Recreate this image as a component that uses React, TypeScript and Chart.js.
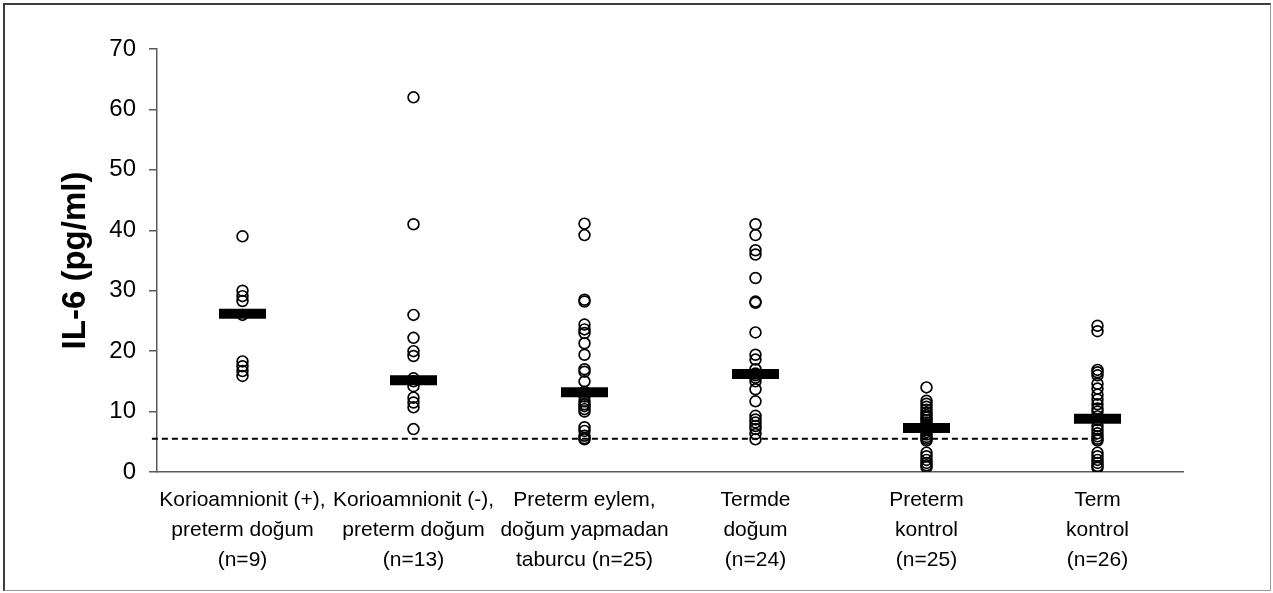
import React, { useEffect, useRef } from "react";
import { Chart, registerables } from "chart.js";

Chart.register(...registerables);

const CATEGORY_LABELS: string[][] = [
  ["Korioamnionit (+),", "preterm doğum", "(n=9)"],
  ["Korioamnionit (-),", "preterm doğum", "(n=13)"],
  ["Preterm eylem,", "doğum yapmadan", "taburcu (n=25)"],
  ["Termde", "doğum", "(n=24)"],
  ["Preterm", "kontrol", "(n=25)"],
  ["Term", "kontrol", "(n=26)"],
];

const KORIO_POS: number[] = [39.0, 30.0, 29.1, 28.3, 26.0, 18.3, 17.5, 16.7, 15.9];
const KORIO_NEG: number[] = [62.0, 41.0, 26.0, 22.2, 20.0, 19.2, 15.5, 15.0, 14.2, 12.3, 11.5, 10.7, 7.1];
const PRETERM_EYLEM: number[] = [41.1, 39.2, 28.5, 28.2, 24.4, 23.6, 23.0, 21.3, 19.4, 17.0, 16.6, 15.0, 13.3, 13.0, 12.5, 11.7, 11.2, 10.9, 10.4, 10.0, 7.4, 6.8, 6.0, 5.6, 5.4];
const TERMDE_DOGUM: number[] = [41.0, 39.2, 36.7, 36.0, 32.1, 28.2, 28.0, 23.1, 19.4, 18.6, 17.0, 16.3, 16.0, 15.6, 15.0, 13.7, 11.7, 9.3, 8.7, 8.2, 7.6, 7.1, 6.3, 5.4];
const PRETERM_KONTROL: number[] = [14.0, 11.8, 11.3, 10.8, 10.3, 9.8, 9.4, 9.0, 8.6, 8.2, 7.8, 7.5, 7.3, 7.0, 6.6, 6.2, 5.8, 5.5, 5.2, 3.2, 2.6, 2.0, 1.5, 1.1, 0.8];
const TERM_KONTROL: number[] = [24.2, 23.3, 16.9, 16.5, 16.0, 14.6, 13.8, 12.8, 12.0, 11.2, 10.5, 10.0, 9.2, 8.6, 7.6, 7.0, 6.4, 5.9, 5.5, 5.2, 3.2, 2.6, 2.0, 1.5, 1.0, 0.7];

const MEDIANS: number[] = [26.2, 15.2, 13.2, 16.2, 7.3, 8.8];
const CUTOFF = 5.5;

const Y_MIN = 0;
const Y_MAX = 70;
const Y_STEP = 5;
const Y_LABEL_STEP = 10;

const FONT = "'Liberation Sans', Arial, Helvetica, sans-serif";

export default function App() {
  const canvasRef = useRef<HTMLCanvasElement | null>(null);

  useEffect(() => {
    const canvas = canvasRef.current;
    if (!canvas) return;
    const groups = [KORIO_POS, KORIO_NEG, PRETERM_EYLEM, TERMDE_DOGUM, PRETERM_KONTROL, TERM_KONTROL];
    const points = groups.flatMap((vals, gi) => vals.map((v) => ({ x: gi, y: v })));
    const medians = MEDIANS.map((m, gi) => ({ x: gi, y: m }));

    const chart = new Chart(canvas, {
      type: "scatter",
      data: {
        datasets: [
          {
            label: "Medyan",
            data: medians,
            pointStyle: "line",
            pointRadius: 23.5,
            pointHoverRadius: 23.5,
            borderWidth: 10,
            pointBorderWidth: 10,
            borderColor: "#000",
            backgroundColor: "#000",
            showLine: false,
            order: 0,
          },
          {
            label: "IL-6",
            data: points,
            pointStyle: "circle",
            pointRadius: 5.4,
            pointHoverRadius: 5.4,
            pointBorderWidth: 1.7,
            borderColor: "#000",
            backgroundColor: "rgba(0,0,0,0)",
            showLine: false,
            order: 1,
          },
          {
            label: "cutoff",
            type: "line",
            data: [
              { x: -0.53, y: CUTOFF },
              { x: groups.length - 1, y: CUTOFF },
            ],
            borderColor: "#000",
            borderWidth: 1.8,
            borderDash: [6, 4],
            pointRadius: 0,
            clip: false,
            order: 2,
          } as any,
        ],
      },
      options: {
        responsive: false,
        animation: false,
        events: [],
        layout: { padding: { left: 0, right: 90, top: 49, bottom: 0 } },
        plugins: {
          legend: { display: false },
          tooltip: { enabled: false },
        },
        scales: {
          x: {
            type: "linear",
            min: -0.5,
            max: groups.length - 0.5,
            afterBuildTicks: (scale: any) => {
              scale.ticks = CATEGORY_LABELS.map((_, i) => ({ value: i }));
            },
            afterFit: (scale: any) => {
              scale.height = 121;
            },
            grid: { display: false, drawTicks: false },
            border: { display: true, color: "#5a5a5a", width: 1.5 },
            ticks: {
              autoSkip: false,
              maxRotation: 0,
              minRotation: 0,
              padding: 13,
              color: "#000",
              font: { family: FONT, size: 21, lineHeight: 1.43 },
              callback: (value: any) => CATEGORY_LABELS[Math.round(Number(value))] || "",
            },
          },
          y: {
            min: Y_MIN,
            max: Y_MAX,
            afterFit: (scale: any) => {
              scale.width = 157;
            },
            grid: {
              drawOnChartArea: false,
              drawTicks: true,
              tickLength: 8,
              color: "#5a5a5a",
              lineWidth: 1.5,
            },
            border: { display: true, color: "#5a5a5a", width: 1.5 },
            ticks: {
              stepSize: Y_STEP,
              padding: 13,
              color: "#000",
              font: { family: FONT, size: 24 },
              callback: (value: any) => (Number(value) % Y_LABEL_STEP === 0 ? String(value) : ""),
            },
            title: {
              display: true,
              text: "IL-6 (pg/ml)",
              color: "#000",
              font: { family: FONT, size: 33, weight: "bold" },
              padding: { top: 56, bottom: 0 },
            },
          },
        },
      },
    });
    return () => chart.destroy();
  }, []);

  return (
    <div style={{ position: "fixed", left: 0, top: 0, width: 1273, height: 593, background: "#fff" }}>
      <canvas ref={canvasRef} width={1273} height={593} style={{ display: "block", width: 1273, height: 593 }} />
      <div
        style={{
          position: "absolute",
          left: 3,
          top: 3,
          width: 1268,
          height: 588,
          borderLeft: "2px solid #3c3c3c",
          borderTop: "2px solid #3c3c3c",
          borderRight: "1px solid #9a9a9a",
          borderBottom: "1px solid #9a9a9a",
          pointerEvents: "none",
          boxSizing: "border-box",
        }}
      />
    </div>
  );
}
